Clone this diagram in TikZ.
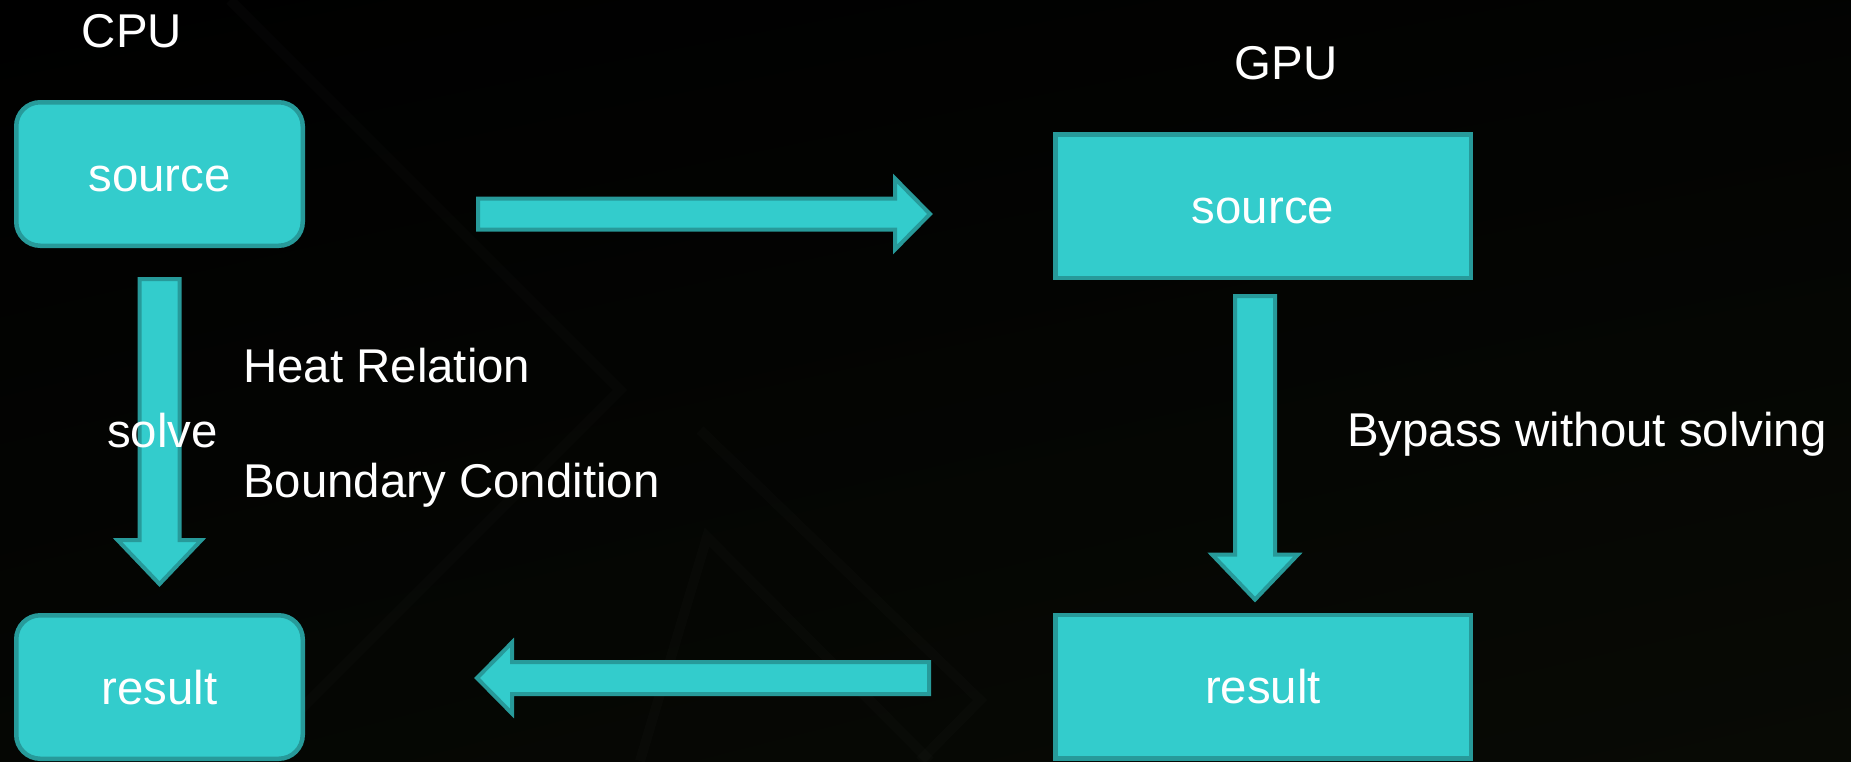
\documentclass[tikz,border=0pt]{standalone}
\usepackage{fontspec}
\setmainfont{Liberation Sans}
\usetikzlibrary{calc,shadings}

\definecolor{boxfill}{HTML}{33CCCC}
\definecolor{boxline}{HTML}{279A9A}
\definecolor{bgolive}{HTML}{080A05}

\tikzset{
  label font/.style={font=\fontsize{47.4}{56}\selectfont},
  box/.style={draw=boxline, fill=boxfill, line width=4.5pt, text=white,
    label font, inner sep=0pt, text height=40pt, text depth=6pt,
    minimum height=143.5pt},
  cpubox/.style={box, rounded corners=24pt, minimum width=286.5pt},
  gpubox/.style={box, minimum width=415.5pt},
  caption/.style={text=white, label font, inner sep=0pt},
  arrowbody/.style={draw=boxline, fill=boxfill, line width=4pt, line join=miter},
  faint/.style={draw=white, draw opacity=0.015, line width=10pt}
}

% block arrow: #1 start, #2 tip, #3 shaft half width, #4 head half width, #5 head length
\newcommand\fatarrow[5]{%
  \coordinate (hb) at ($(#2)!#5!(#1)$);
  \path[arrowbody]
    ($(#1)!#3!90:(#2)$) -- ($(hb)!#3!90:(#2)$) -- ($(hb)!#4!90:(#2)$) -- (#2)
    -- ($(hb)!#4!-90:(#2)$) -- ($(hb)!#3!-90:(#2)$) -- ($(#1)!#3!-90:(#2)$) -- cycle;
}

\begin{document}
\begin{tikzpicture}[x=1pt, y=-1pt]
  % backdrop
  \shade[upper left=black, upper right=black!70!bgolive,
         lower left=black!40!bgolive, lower right=bgolive]
    (0,0) rectangle (1851,761);
  \useasboundingbox (0,0) rectangle (1851,761);
  \path[faint] (230,0) -- (620,390) -- (249,761);
  \path[faint] (640,761) -- (707,537) -- (930,761);
  \path[faint] (700,430) -- (980,700) -- (920,761);

  % boxes
  \node[cpubox] (cpusrc) at (159.5,174) {source};
  \node[cpubox] (cpures) at (159.5,687) {result};
  \node[gpubox] (gpusrc) at (1263,206) {source};
  \node[gpubox] (gpures) at (1263,686.5) {result};

  % headings and notes
  \node[caption, anchor=base] (cpulbl) at (132,47) {CPU};
  \node[caption, anchor=base] (gpulbl) at (1286,79) {GPU};
  \node[caption, anchor=base west] (heat) at (243,382) {Heat Relation};
  \node[caption, anchor=base west] (bound) at (243,497) {Boundary Condition};
  \node[caption, anchor=base west] (bypass) at (1347,446) {Bypass without solving};

  % arrow ends
  \coordinate (cpuDownA) at ($(cpusrc.south)+(0,31)$);
  \coordinate (cpuDownB) at ($(cpures.north)+(0,-29)$);
  \coordinate (gpuDownA) at ($(gpusrc.south)+(-8,16)$);
  \coordinate (gpuDownB) at ($(gpures.north)+(-8,-13)$);
  \coordinate (sendA) at ($(cpusrc.east)+(173,40)$);
  \coordinate (sendB) at ($(gpusrc.west)+(-123,8)$);
  \coordinate (backA) at ($(gpures.west)+(-124,-8.5)$);
  \coordinate (backB) at ($(cpures.east)+(172,-9)$);

  \fatarrow{cpuDownA}{cpuDownB}{20pt}{42pt}{44pt}
  \fatarrow{gpuDownA}{gpuDownB}{20pt}{43pt}{45pt}
  \fatarrow{sendA}{sendB}{15.5pt}{35.5pt}{35pt}
  \fatarrow{backA}{backB}{16pt}{35.5pt}{35pt}

  % label laid over the CPU arrow
  \node[caption, anchor=base west] (solve) at (107,447) {solve};
\end{tikzpicture}
\end{document}
